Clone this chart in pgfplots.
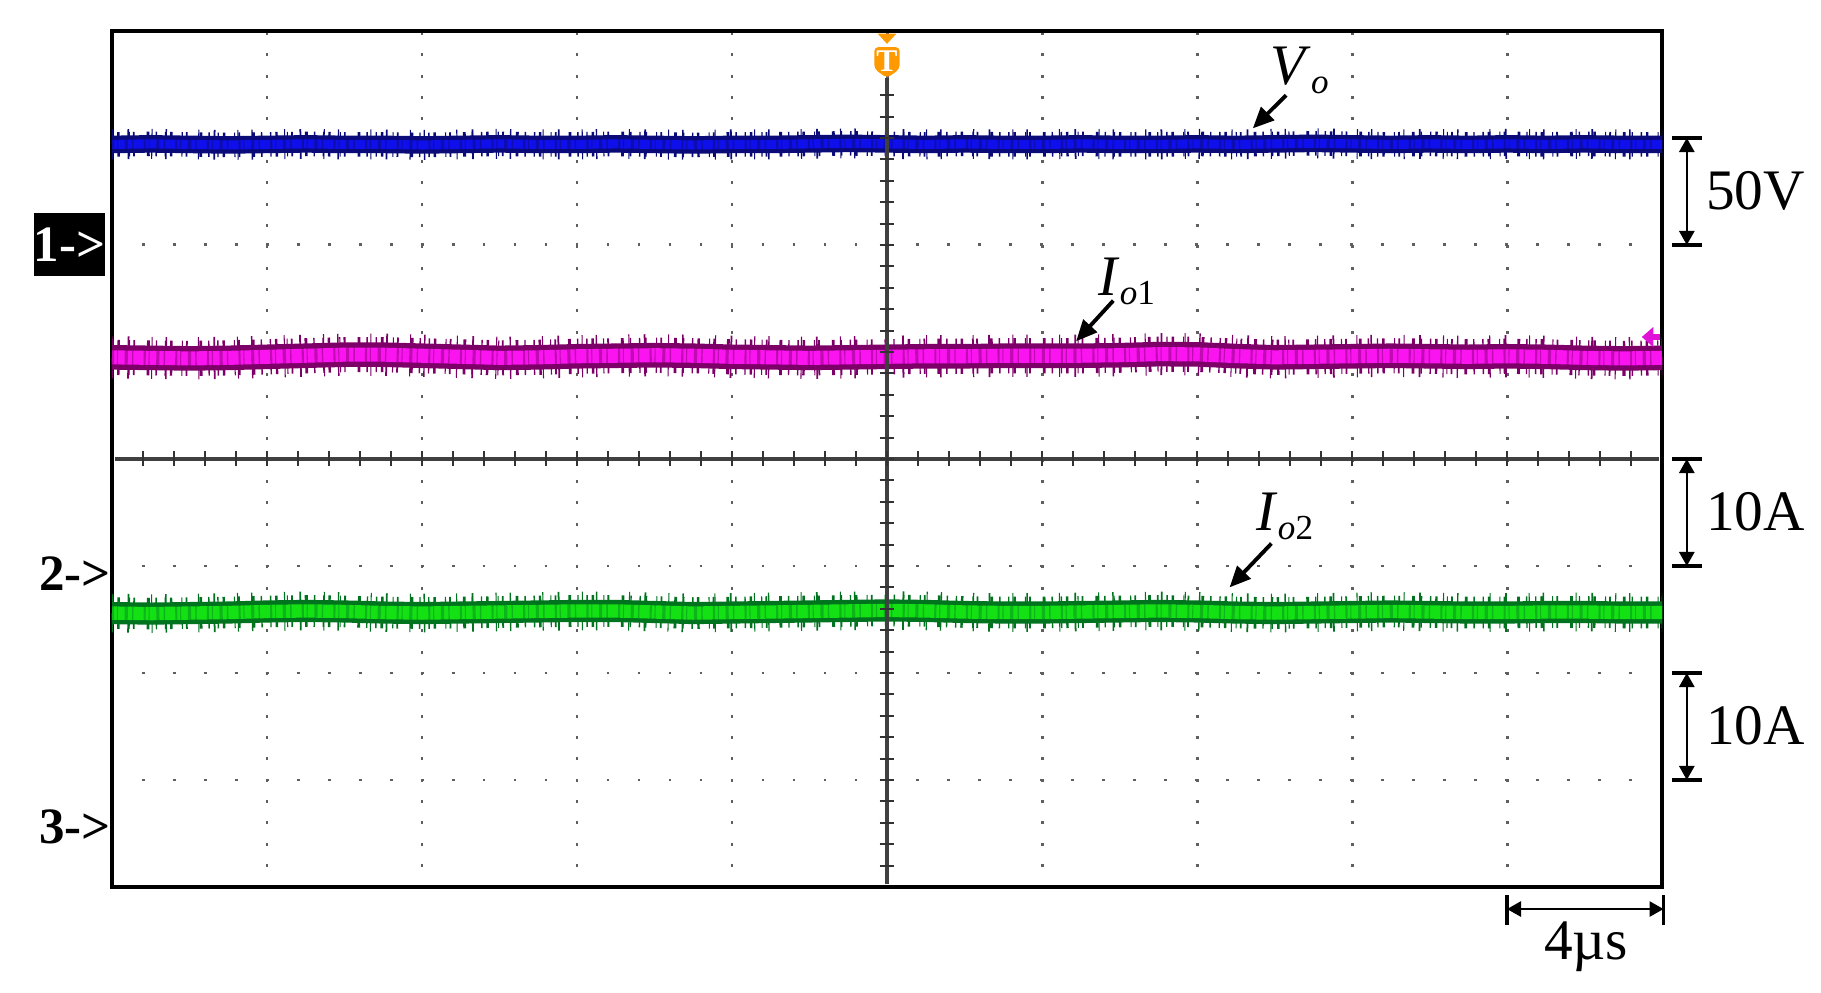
\documentclass[border=0pt]{standalone}
\usepackage{fontspec}
\setmainfont{Liberation Serif}
\usepackage{pgfplots}
\pgfplotsset{compat=1.18}
\usetikzlibrary{arrows.meta}

\definecolor{vcore}{RGB}{15,15,235}
\definecolor{vdark}{RGB}{10,10,120}
\definecolor{icore}{RGB}{250,20,240}
\definecolor{idark}{RGB}{125,0,105}
\definecolor{gcore}{RGB}{20,225,20}
\definecolor{gdark}{RGB}{0,115,30}
\definecolor{trig}{RGB}{255,153,0}
\definecolor{gridc}{RGB}{95,95,95}

% trace levels in divisions (10 x 8 screen)
\pgfplotstableread{
x y
0.00 6.940
0.25 6.945
0.50 6.940
0.75 6.935
1.00 6.940
1.25 6.945
1.50 6.940
1.75 6.940
2.00 6.935
2.25 6.940
2.50 6.945
2.75 6.940
3.00 6.940
3.25 6.945
3.50 6.940
3.75 6.935
4.00 6.940
4.25 6.940
4.50 6.945
4.75 6.950
5.00 6.945
5.25 6.940
5.50 6.945
5.75 6.940
6.00 6.940
6.25 6.945
6.50 6.940
6.75 6.940
7.00 6.945
7.25 6.940
7.50 6.945
7.75 6.950
8.00 6.945
8.25 6.940
8.50 6.945
8.75 6.940
9.00 6.945
9.25 6.940
9.50 6.945
9.75 6.940
10.00 6.940
}\vo

\pgfplotstableread{
x y
0.00 4.950
0.25 4.945
0.50 4.940
0.75 4.945
1.00 4.955
1.25 4.965
1.50 4.975
1.75 4.975
2.00 4.965
2.25 4.955
2.50 4.945
2.75 4.950
3.00 4.960
3.25 4.965
3.50 4.970
3.75 4.965
4.00 4.955
4.25 4.950
4.50 4.945
4.75 4.950
5.00 4.955
5.25 4.960
5.50 4.960
5.75 4.965
6.00 4.965
6.25 4.965
6.50 4.970
6.75 4.980
7.00 4.978
7.25 4.962
7.50 4.950
7.75 4.955
8.00 4.960
8.25 4.965
8.50 4.960
8.75 4.955
9.00 4.960
9.25 4.955
9.50 4.945
9.75 4.940
10.00 4.945
}\ioa

\pgfplotstableread{
x y
0.00 2.560
0.25 2.555
0.50 2.560
0.75 2.565
1.00 2.575
1.25 2.580
1.50 2.575
1.75 2.565
2.00 2.560
2.25 2.565
2.50 2.570
2.75 2.575
3.00 2.580
3.25 2.580
3.50 2.570
3.75 2.560
4.00 2.565
4.25 2.570
4.50 2.575
4.75 2.580
5.00 2.585
5.25 2.580
5.50 2.570
5.75 2.565
6.00 2.565
6.25 2.570
6.50 2.575
6.75 2.580
7.00 2.575
7.25 2.565
7.50 2.560
7.75 2.565
8.00 2.570
8.25 2.575
8.50 2.570
8.75 2.565
9.00 2.565
9.25 2.570
9.50 2.570
9.75 2.565
10.00 2.565
}\iob

\tikzset{
  noise/.style={line join=round, dash pattern={on 0.4pt off 1.1pt on 0.7pt off 2.6pt on 0.3pt off 0.9pt on 0.5pt off 3.4pt on 0.8pt off 1.7pt on 0.4pt off 2.2pt}},
  noiseb/.style={line join=round, dash pattern={on 0.6pt off 0.8pt on 0.3pt off 1.9pt on 0.9pt off 1.2pt on 0.4pt off 2.9pt}},
  noisec/.style={line join=round, dash pattern={on 0.3pt off 4.1pt on 0.5pt off 6.3pt on 0.3pt off 3.7pt on 0.4pt off 8.9pt}},
  lbl/.style={font=\fontsize{16.3}{19}\selectfont, inner sep=0pt},
  scl/.style={line width=0.7pt, {Triangle[length=4pt,width=4.3pt]}-{Triangle[length=4pt,width=4.3pt]}},
  ann/.style={line width=1.1pt, -{Triangle[length=6pt,width=5.2pt]}},
  chan/.style={font=\fontsize{14.5}{16}\selectfont\bfseries, inner sep=0pt},
}
\newcommand{\subs}[1]{\raisebox{-0.16em}{\fontsize{10}{11}\selectfont #1}}

\begin{document}
\begin{tikzpicture}
\useasboundingbox (-1.12,-1.06) rectangle (17.09,8.87);
\begin{axis}[
  at={(0,0)}, anchor=south west,
  scale only axis,
  width=15.5cm, height=8.56cm,
  xmin=0, xmax=10, ymin=0, ymax=8,
  xtick={1,...,9}, ytick={1,...,7},
  xticklabels={}, yticklabels={},
  major tick length=0pt,
  grid=major,
  major x grid style={gridc, line width=0.85pt, dash pattern=on 0.85pt off 5.22pt, dash phase=0.42pt},
  major y grid style={gridc, line width=0.85pt, dash pattern=on 0.85pt off 7.97pt, dash phase=0.42pt},
  axis line style={line width=1.4pt},
  clip=true,
]
% Vo
\addplot[vdark, line width=7pt, noise] table {\vo};
\addplot[vdark, line width=8.5pt, noisec] table {\vo};
\addplot[vdark, line width=5pt] table {\vo};
\addplot[vcore, line width=2.6pt] table {\vo};
\addplot[vdark, line width=3.6pt, noiseb, opacity=0.5] table {\vo};
% Io1
\addplot[idark, line width=10pt, noise] table {\ioa};
\addplot[idark, line width=12pt, noisec] table {\ioa};
\addplot[idark, line width=7pt] table {\ioa};
\addplot[icore, line width=4pt] table {\ioa};
\addplot[idark, line width=5.5pt, noiseb, opacity=0.45] table {\ioa};
% Io2
\addplot[gdark, line width=9pt, noise] table {\iob};
\addplot[gdark, line width=11pt, noisec] table {\iob};
\addplot[gdark, line width=6.3pt] table {\iob};
\addplot[gcore, line width=3.8pt] table {\iob};
\addplot[gdark, line width=5pt, noiseb, opacity=0.4] table {\iob};
\end{axis}

\begin{scope}[x=1.55cm, y=1.07cm]
  % centre graticule
  \draw[black!75, line width=0.9pt] (5,0.025) -- (5,7.56);
  \draw[black!75, line width=0.9pt] (0.02,4) -- (9.98,4);
  \foreach \k in {1,...,37} {
    \draw[black!80, line width=0.6pt] (4.952,\k*0.2) -- (5.048,\k*0.2);
  }
  \foreach \k in {1,...,49} {
    \draw[black!80, line width=0.6pt] (\k*0.2,3.93) -- (\k*0.2,4.07);
  }
  % trigger marker
  \fill[trig] (4.94,7.975) -- (5.06,7.975) -- (5,7.88) -- cycle;
  \fill[trig, rounded corners=1.2pt] (4.918,7.85) -- (5.082,7.85) -- (5.082,7.645) -- (5,7.56) -- (4.918,7.645) -- cycle;
  \node[text=white, font=\fontsize{9}{9}\selectfont\bfseries, inner sep=0pt] at (5,7.715) {T};
  % channel 2 level marker
  \fill[icore!90!black] (9.87,5.14) -- (9.945,5.235) -- (9.945,5.045) -- cycle;
  \draw[icore!90!black, line width=1.5pt] (9.94,5.14) -- (9.99,5.14);

  % channel markers
  \node[chan, fill=black, text=white, minimum width=0.69cm, minimum height=0.63cm] at (-0.274,6.0) {1->};
  \node[chan] at (-0.239,2.93) {2->};
  \node[chan] at (-0.239,0.56) {3->};

  % trace labels
  \node[lbl, anchor=base west] at (7.47,7.50) {\textit{V}\subs{\textit{o}}};
  \draw[ann] (7.575,7.40) -- (7.36,7.09);
  \node[lbl, anchor=base west] at (6.36,5.53) {\textit{I}\subs{\textit{o}1}};
  \draw[ann] (6.46,5.48) -- (6.22,5.10);
  \node[lbl, anchor=base west] at (7.38,3.33) {\textit{I}\subs{\textit{o}2}};
  \draw[ann] (7.48,3.21) -- (7.21,2.80);

  % scale bars
  \draw[scl] (10.16,6) -- (10.16,7);
  \draw[line width=1pt] (10.065,6) -- (10.26,6) (10.065,7) -- (10.26,7);
  \node[lbl, anchor=base west] at (10.28,6.33) {50V};
  \draw[scl] (10.16,3) -- (10.16,4);
  \draw[line width=1pt] (10.065,3) -- (10.26,3) (10.065,4) -- (10.26,4);
  \node[lbl, anchor=base west] at (10.28,3.33) {10A};
  \draw[scl] (10.16,1) -- (10.16,2);
  \draw[line width=1pt] (10.065,1) -- (10.26,1) (10.065,2) -- (10.26,2);
  \node[lbl, anchor=base west] at (10.28,1.33) {10A};

  \draw[scl] (9,-0.206) -- (10.01,-0.206);
  \draw[line width=1pt] (9,-0.075) -- (9,-0.355) (10.01,-0.075) -- (10.01,-0.355);
  \node[lbl, anchor=base] at (9.51,-0.68) {4µs};
\end{scope}
\end{tikzpicture}
\end{document}
